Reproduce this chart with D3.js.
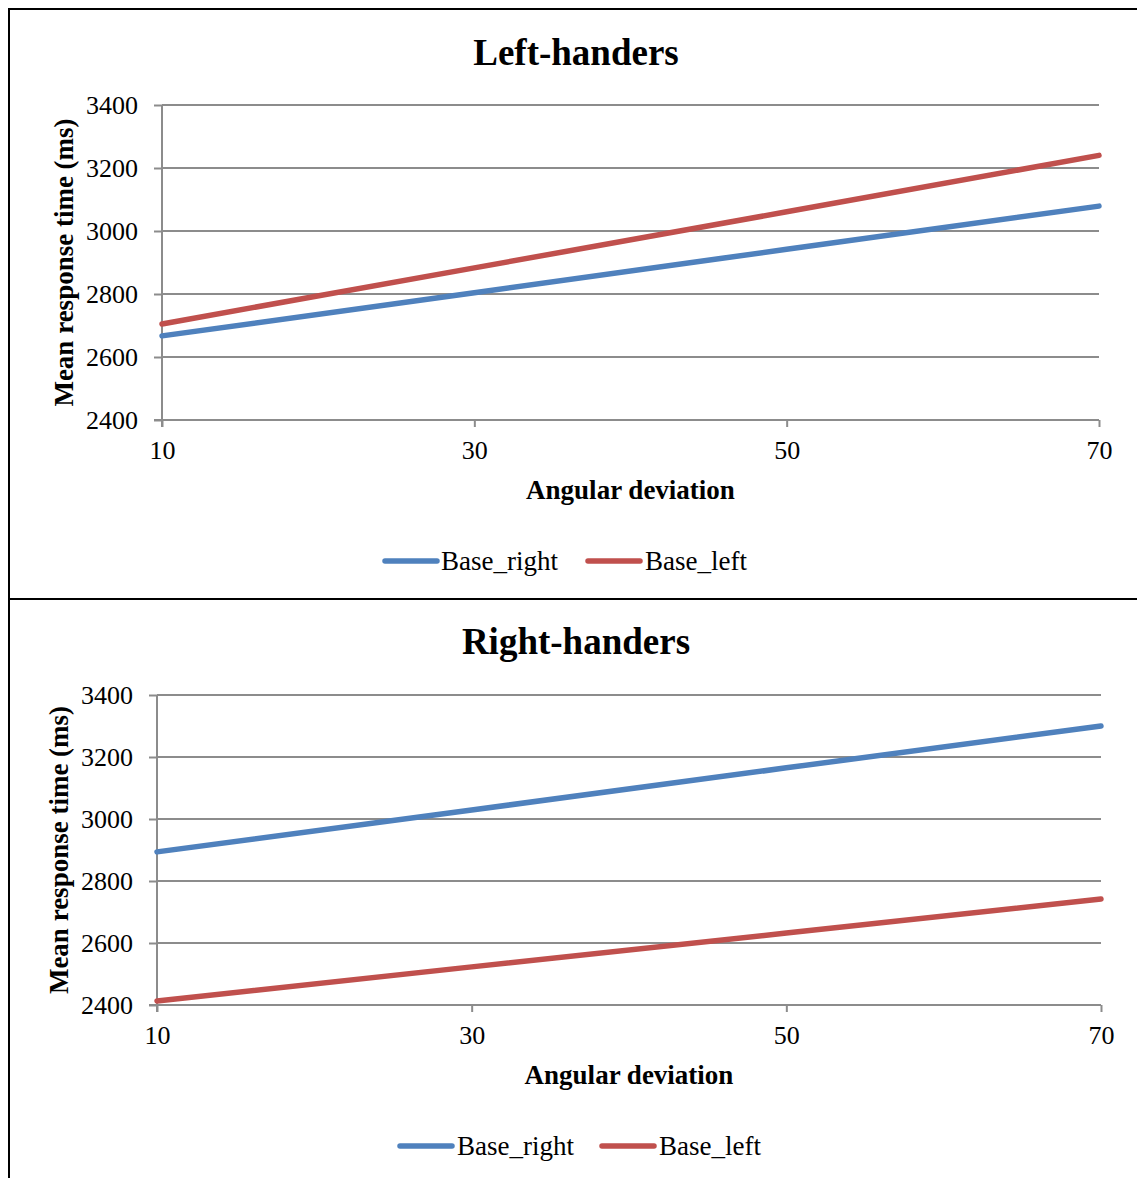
<!DOCTYPE html>
<html>
<head>
<meta charset="utf-8">
<script src="https://cdn.jsdelivr.net/npm/d3@7"></script>
<style>
  html, body { margin: 0; padding: 0; background: #fff; }
  svg { display: block; }
  text { font-family: "Liberation Serif", "Times New Roman", serif; fill: #000; }
</style>
</head>
<body>
<svg id="chart" width="1137" height="1178"></svg>
<script>
// Angular deviation categories and mean response times (ms)
const angles = [10, 30, 50, 70];
const yTicks = [2400, 2600, 2800, 3000, 3200, 3400];
const seriesNames = ["Base_right", "Base_left"];
const seriesColors = ["#4F81BD", "#C0504D"];

const leftBaseRight = [2667, 2804, 2942, 3079];
const leftBaseLeft = [2705, 2883, 3061, 3240];
const rightBaseRight = [2894, 3029, 3165, 3300];
const rightBaseLeft = [2413, 2523, 2632, 2742];

const serif = "'Liberation Serif', 'Times New Roman', serif";

const panels = [
  {
    title: "Left-handers",
    series: [leftBaseRight, leftBaseLeft],
    plot: { x0: 162, x1: 1099, y0: 105, y1: 420 },
    titleY: 65, xTitleY: 499, yTitleX: 73,
    legend: { y: 561, lines: [385, 588], texts: [441, 645] }
  },
  {
    title: "Right-handers",
    series: [rightBaseRight, rightBaseLeft],
    plot: { x0: 157, x1: 1101, y0: 695, y1: 1005 },
    titleY: 654, xTitleY: 1084, yTitleX: 68,
    legend: { y: 1146, lines: [400, 602], texts: [457, 659] }
  }
];

const svg = d3.select("#chart");

// Panel frames
svg.append("line").attr("x1", 9).attr("x2", 1137).attr("y1", 9).attr("y2", 9)
  .attr("stroke", "#000").attr("stroke-width", 2);
svg.append("line").attr("x1", 9).attr("x2", 1137).attr("y1", 599).attr("y2", 599)
  .attr("stroke", "#000").attr("stroke-width", 2);
svg.append("line").attr("x1", 9).attr("x2", 9).attr("y1", 8).attr("y2", 1178)
  .attr("stroke", "#000").attr("stroke-width", 2);

panels.forEach(p => {
  const g = svg.append("g");
  const x = d3.scaleLinear().domain([10, 70]).range([p.plot.x0, p.plot.x1]);
  const y = d3.scaleLinear().domain([2400, 3400]).range([p.plot.y1, p.plot.y0]);

  // Horizontal gridlines
  g.append("g").selectAll("line").data(yTicks.slice(1)).join("line")
    .attr("x1", p.plot.x0).attr("x2", p.plot.x1)
    .attr("y1", d => y(d)).attr("y2", d => y(d))
    .attr("stroke", "#8c8c8c").attr("stroke-width", 2);

  // Y axis
  const yAxis = g.append("g").attr("transform", `translate(${p.plot.x0},0)`)
    .call(d3.axisLeft(y).tickValues(yTicks).tickSize(8).tickPadding(16).tickFormat(d3.format("d")));
  yAxis.attr("font-family", null).attr("font-size", null);
  yAxis.select(".domain").attr("stroke", "#8c8c8c").attr("stroke-width", 2)
    .attr("d", `M0,${p.plot.y0}V${p.plot.y1 + 7}`);
  yAxis.selectAll(".tick line").attr("stroke", "#8c8c8c").attr("stroke-width", 2);
  yAxis.selectAll(".tick text").style("font-size", "26px")
    .style("font-family", serif).attr("fill", "#000");

  // X axis
  const xAxis = g.append("g").attr("transform", `translate(0,${p.plot.y1})`)
    .call(d3.axisBottom(x).tickValues(angles).tickSize(7).tickPadding(14).tickFormat(d3.format("d")));
  xAxis.attr("font-family", null).attr("font-size", null);
  xAxis.select(".domain").attr("stroke", "#8c8c8c").attr("stroke-width", 2)
    .attr("d", `M${p.plot.x0 - 8},0H${p.plot.x1}`);
  xAxis.selectAll(".tick line").attr("stroke", "#8c8c8c").attr("stroke-width", 2);
  xAxis.selectAll(".tick text").style("font-size", "26px")
    .style("font-family", serif).attr("fill", "#000");

  // Series lines
  const line = d3.line().x((d, i) => x(angles[i])).y(d => y(d));
  p.series.forEach((vals, i) => {
    g.append("path").datum(vals).attr("d", line)
      .attr("fill", "none").attr("stroke", seriesColors[i])
      .attr("stroke-width", 5.5).attr("stroke-linecap", "round");
  });

  // Titles
  g.append("text").attr("x", 576).attr("y", p.titleY).attr("text-anchor", "middle")
    .style("font-size", "37px").attr("font-weight", "bold").text(p.title);
  g.append("text").attr("x", (p.plot.x0 + p.plot.x1) / 2).attr("y", p.xTitleY)
    .attr("text-anchor", "middle").style("font-size", "27px").attr("font-weight", "bold")
    .text("Angular deviation");
  g.append("text")
    .attr("transform", `translate(${p.yTitleX},${(p.plot.y0 + p.plot.y1) / 2}) rotate(-90)`)
    .attr("text-anchor", "middle").style("font-size", "27px").attr("font-weight", "bold")
    .text("Mean response time (ms)");

  // Legend
  seriesNames.forEach((name, i) => {
    const lx = p.legend.lines[i];
    g.append("line").attr("x1", lx).attr("x2", lx + 52)
      .attr("y1", p.legend.y).attr("y2", p.legend.y)
      .attr("stroke", seriesColors[i]).attr("stroke-width", 5.5).attr("stroke-linecap", "round");
    g.append("text").attr("x", p.legend.texts[i]).attr("y", p.legend.y + 9)
      .style("font-size", "27px").text(name);
  });
});
</script>
</body>
</html>
